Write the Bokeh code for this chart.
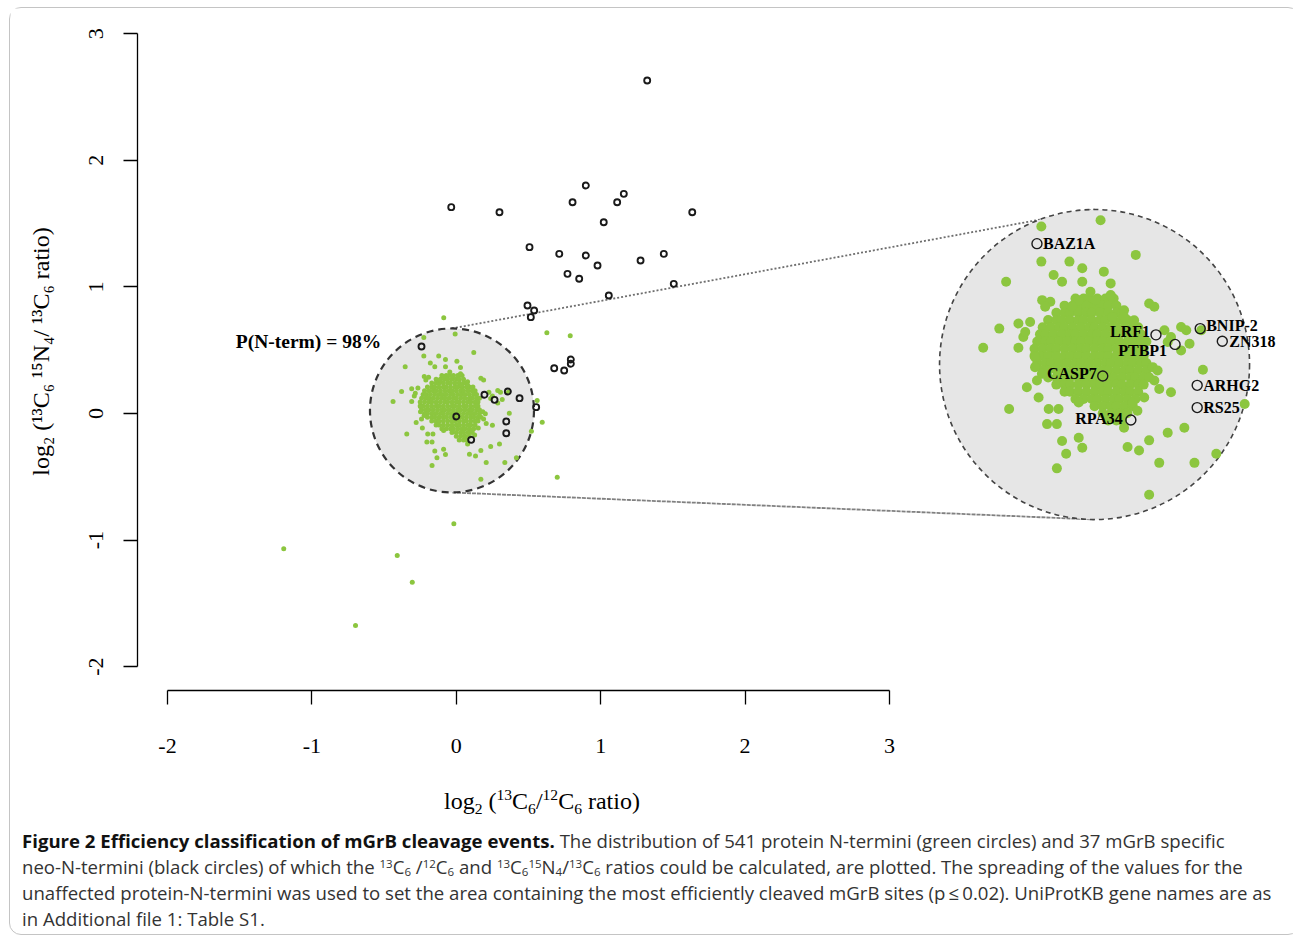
import numpy as np
from bokeh.plotting import figure
from bokeh.models import Range1d, FixedTicker, Div, Label
from bokeh.layouts import column
from bokeh.embed import file_html
from bokeh.resources import INLINE

# ---------------- data ----------------
x_ticks = [-2, -1, 0, 1, 2, 3]
y_ticks = [-2, -1, 0, 1, 2, 3]
y_title = "log₂ (¹³C₆ ¹⁵N₄/ ¹³C₆ ratio)"
p_text = "P(N-term) = 98%"

# dense core of unaffected N-termini, read row by row: (y, [x values])
core_rows = [
    (0.30, [-0.10, -0.07, -0.05, -0.02, 0.01, 0.04]),
    (0.27, [-0.14, -0.11, -0.08, -0.06, -0.03, 0.00, 0.02, 0.05]),
    (0.24, [-0.17, -0.14, -0.12, -0.09, -0.06, -0.04, -0.01, 0.02, 0.05, 0.07]),
    (0.21, [-0.20, -0.17, -0.15, -0.12, -0.09, -0.07, -0.04, -0.01, 0.01, 0.04, 0.07, 0.09]),
    (0.18, [-0.22, -0.19, -0.16, -0.14, -0.11, -0.08, -0.05, -0.03, 0.00, 0.03, 0.05, 0.08, 0.11, 0.13]),
    (0.15, [-0.23, -0.21, -0.18, -0.15, -0.12, -0.10, -0.07, -0.04, -0.02, 0.01, 0.04, 0.06, 0.09, 0.12, 0.14]),
    (0.12, [-0.24, -0.21, -0.19, -0.16, -0.13, -0.10, -0.08, -0.05, -0.02, 0.00, 0.03, 0.06, 0.09, 0.11, 0.14, 0.16]),
    (0.09, [-0.25, -0.22, -0.19, -0.17, -0.14, -0.11, -0.08, -0.06, -0.03, 0.00, 0.02, 0.05, 0.08, 0.10, 0.13, 0.15]),
    (0.06, [-0.25, -0.23, -0.20, -0.17, -0.14, -0.12, -0.09, -0.06, -0.03, -0.01, 0.02, 0.05, 0.07, 0.10, 0.13, 0.15]),
    (0.03, [-0.24, -0.21, -0.19, -0.16, -0.13, -0.10, -0.08, -0.05, -0.02, 0.01, 0.03, 0.06, 0.09, 0.11, 0.14, 0.16]),
    (0.00, [-0.22, -0.20, -0.17, -0.14, -0.11, -0.09, -0.06, -0.03, 0.00, 0.02, 0.05, 0.08, 0.10, 0.13, 0.16]),
    (-0.03, [-0.20, -0.17, -0.15, -0.12, -0.09, -0.07, -0.04, -0.01, 0.02, 0.04, 0.07, 0.10, 0.12, 0.15]),
    (-0.06, [-0.17, -0.14, -0.12, -0.09, -0.06, -0.03, -0.01, 0.02, 0.05, 0.07, 0.10, 0.13, 0.15]),
    (-0.09, [-0.14, -0.12, -0.09, -0.06, -0.03, 0.00, 0.02, 0.05, 0.08, 0.10, 0.13]),
    (-0.12, [-0.10, -0.07, -0.04, -0.02, 0.01, 0.04, 0.06, 0.09, 0.12]),
    (-0.15, [-0.03, 0.00, 0.03, 0.05, 0.08, 0.11]),
    (-0.18, [0.00, 0.03, 0.06, 0.09]),
    (-0.21, [0.02, 0.05, 0.07]),
]

# scattered unaffected N-termini around the core
fringe_x = [-0.225, -0.008, -0.225, -0.122, -0.075, -0.354, -0.180, -0.149, -0.075, -0.045,
            -0.222, -0.192, -0.211, -0.088, -0.112, -0.379, -0.309, -0.266, -0.291, -0.284,
            -0.438, -0.309, -0.248, 0.121, 0.004, 0.029, 0.029, -0.026, 0.170, 0.189,
            0.078, 0.035, 0.078, 0.115, 0.226, 0.287, 0.306, 0.250, 0.238, 0.318,
            0.287, 0.361, 0.367, 0.183, 0.201, 0.170, 0.189, 0.207, 0.250, 0.152,
            0.109, 0.127, 0.078, 0.299, 0.238, 0.170, 0.091, 0.133, 0.207, 0.336,
            0.416, 0.520, 0.170, -0.343, -0.278, -0.241, -0.223, -0.235, -0.198, -0.162,
            -0.204, -0.168, -0.149, -0.088, -0.075, -0.134, -0.168, -0.088, -0.248]
fringe_y = [0.601, 0.627, 0.454, 0.454, 0.426, 0.370, 0.398, 0.370, 0.370, 0.328,
            0.293, 0.286, 0.265, 0.293, 0.265, 0.174, 0.195, 0.202, 0.139, 0.160,
            0.094, 0.094, 0.055, 0.482, 0.412, 0.363, 0.314, 0.293, 0.279, 0.265,
            0.251, 0.223, 0.223, 0.209, 0.167, 0.181, 0.167, 0.139, 0.118, 0.111,
            0.083, 0.167, 0.002, 0.013, -0.001, -0.029, -0.043, -0.078, -0.092, -0.114,
            -0.135, -0.169, -0.240, -0.240, -0.261, -0.293, -0.321, -0.335, -0.387, -0.387,
            -0.349, -0.141, -0.520, -0.162, -0.071, -0.043, -0.015, -0.114, -0.162, -0.162,
            -0.225, -0.225, -0.296, -0.282, -0.324, -0.349, -0.410, -0.135, 0.013]

# outlying unaffected N-termini
outer_x = [-0.087, 0.627, 0.789, 0.595, 0.699, -0.017, -1.195, -0.409, -0.305, -0.698, 0.560]
outer_y = [0.756, 0.637, 0.614, -0.069, -0.503, -0.871, -1.069, -1.122, -1.333, -1.675, 0.103]

# mGrB neo-N-termini (black circles)
black_x = [1.322, -0.035, 0.299, 0.897, 0.805, 1.160, 1.114, 1.634, 1.021, 0.507,
           0.713, 0.897, 0.978, 1.276, 1.437, 0.770, 0.851, 1.056, 1.506, 0.493,
           0.539, 0.516, 0.678, 0.747, 0.793, 0.793,
           -0.241, 0.195, 0.265, 0.357, 0.438, 0.553, 0.000, 0.346, 0.346, 0.103]
black_y = [2.630, 1.630, 1.590, 1.801, 1.669, 1.735, 1.669, 1.590, 1.511, 1.314,
           1.261, 1.248, 1.169, 1.209, 1.261, 1.103, 1.064, 0.932, 1.024, 0.853,
           0.814, 0.761, 0.358, 0.340, 0.427, 0.393,
           0.529, 0.148, 0.108, 0.174, 0.121, 0.050, -0.024, -0.063, -0.156, -0.208]
black_names = [""] * 26 + ["BAZ1A", "LRF1", "PTBP1", "BNIP-2", "ZN318", "", "CASP7",
                           "ARHG2", "RS25", "RPA34"]

# ---------------- layout / style ----------------
FIG_W, FIG_H = 1279, 767
BL, BR, BT, BB = 127, 9, 4, 85
X0, X1 = -2.2078, 5.7077
Y0, Y1 = -2.188, 3.1675
kx = (FIG_W - BL - BR) / (X1 - X0)   # px per x unit
ky = (FIG_H - BT - BB) / (Y1 - Y0)   # px per y unit

GREEN = "#8cc63f"
CIRC_FILL = "#e6e6e6"
SERIF = "Liberation Serif"

# zoom geometry: small circle (data area) and its magnified copy
CS = (-0.030, 0.024)
RS = 82
CB = (4.420, 0.387)
RB = 155
M = RB / RS

# label placement for magnified view: name -> (side, dx, dy)
label_place = {
    "BAZ1A": ("right", 6, 0), "LRF1": ("left", -6, -3), "PTBP1": ("left", -8, 6),
    "BNIP-2": ("right", 6, -3), "ZN318": ("right", 7, 0), "CASP7": ("left", -6, -2),
    "ARHG2": ("right", 6, 0), "RS25": ("right", 6, 0), "RPA34": ("left", -8, -2),
}

green_x = [x for y, xs in core_rows for x in xs] + fringe_x + outer_x
green_y = [y for y, xs in core_rows for x in xs] + fringe_y + outer_y
gx, gy = np.array(green_x), np.array(green_y)
bx, by = np.array(black_x), np.array(black_y)


def inside(x, y):
    return np.hypot((x - CS[0]) * kx, (y - CS[1]) * ky) <= RS + 1.5


def magnify(x, y):
    return CB[0] + M * (x - CS[0]), CB[1] + M * (y - CS[1])


p = figure(width=FIG_W, height=FIG_H, x_range=Range1d(X0, X1), y_range=Range1d(Y0, Y1),
           output_backend="svg", toolbar_location=None,
           min_border_left=BL, min_border_right=BR, min_border_top=BT, min_border_bottom=BB,
           background_fill_color="white", border_fill_color="white", outline_line_color=None)
p.xgrid.visible = False
p.ygrid.visible = False

for ax, ticks in ((p.xaxis, x_ticks), (p.yaxis, y_ticks)):
    ax.ticker = FixedTicker(ticks=ticks)
    ax.bounds = (min(ticks), max(ticks))
    ax.major_label_overrides = {t: str(t) for t in ticks}
    ax.minor_tick_line_color = None
    ax.major_tick_in = 0
    ax.major_tick_out = 14
    ax.axis_line_width = 1.3
    ax.major_tick_line_width = 1.3
    ax.major_label_text_font = SERIF
    ax.major_label_text_font_size = "22px"
    ax.major_label_text_color = "black"
    ax.axis_label_text_font = SERIF
    ax.axis_label_text_font_size = "24px"
    ax.axis_label_text_font_style = "normal"
    ax.axis_label_text_color = "black"

p.yaxis.axis_label = y_title
p.xaxis.major_label_standoff = 34
p.yaxis.major_label_standoff = 20
p.yaxis.axis_label_standoff = 33
p.yaxis.major_label_orientation = "vertical"

# connector lines between the small circle and its magnified copy
p.line([CS[0], CB[0]], [CS[1] + RS / ky, CB[1] + RB / ky], line_color="#6e6e6e",
       line_width=1.8, line_dash="2 2")
p.line([CS[0], CB[0]], [CS[1] - RS / ky, CB[1] - RB / ky], line_color="#808080",
       line_width=1.8, line_dash="4 1")

# circles
p.scatter([CS[0]], [CS[1]], size=2 * RS, marker="circle", fill_color=CIRC_FILL,
          line_color="#333333", line_width=2.2, line_dash="7 5")
p.scatter([CB[0]], [CB[1]], size=2 * RB, marker="circle", fill_color=CIRC_FILL,
          line_color="#444444", line_width=1.6, line_dash="5 4")

# original scale points
p.scatter(gx, gy, size=5, marker="circle", fill_color=GREEN, line_color=None)
p.scatter(bx, by, size=6, marker="circle", fill_alpha=0, line_color="#1a1a1a", line_width=1.9)

# magnified points
gin = inside(gx, gy)
mgx, mgy = magnify(gx[gin], gy[gin])
p.scatter(mgx, mgy, size=10, marker="circle", fill_color=GREEN, line_color=None)

bin_ = inside(bx, by)
names = np.array(black_names)
mbx, mby = magnify(bx[bin_], by[bin_])
p.scatter(mbx, mby, size=10, marker="circle", fill_alpha=0, line_color="#1a1a1a", line_width=1.4)

for nm, x, y in zip(names[bin_], mbx, mby):
    if not nm:
        continue
    side, dx, dy = label_place[nm]
    p.add_layout(Label(x=x, y=y, text=nm, x_offset=dx, y_offset=-dy,
                       text_align="left" if side == "right" else "right",
                       text_baseline="middle", text_font=SERIF, text_font_style="bold",
                       text_font_size="16px", text_color="black"))

p.add_layout(Label(x=CS[0] - 0.49, y=CS[1] + 0.545, text=p_text, text_align="right",
                   text_baseline="middle", text_font=SERIF, text_font_style="bold",
                   text_font_size="19.5px", text_color="black"))

# x title (R style: centred under the bounded axis), as rich text below the figure
X_TITLE_LEFT = BL + (0.6 - X0) * kx - 98
xt_html = (
    '<div style="font-family:\'Liberation Serif\',serif;font-size:24px;line-height:30px;'
    'padding-top:5px;padding-left:%dpx;color:black;white-space:nowrap;">'
    'log<span style="font-size:65%%;vertical-align:-5px;">2</span> '
    '(<span style="font-size:65%%;vertical-align:9px;">13</span>C'
    '<span style="font-size:65%%;vertical-align:-5px;">6</span>/'
    '<span style="font-size:65%%;vertical-align:9px;">12</span>C'
    '<span style="font-size:65%%;vertical-align:-5px;">6</span> ratio)</div>'
) % int(round(X_TITLE_LEFT))
xtitle = Div(text=xt_html, width=FIG_W, height=51, margin=(0, 0, 0, 0))

SUP = '<span style="font-size:62%;vertical-align:6px;line-height:1;">'
SUB = '<span style="font-size:62%;vertical-align:-2px;line-height:1;">'
caption_html = (
    '<div style="font-family:\'Open Sans\',sans-serif;font-size:18.6px;line-height:26px;'
    'color:#333;white-space:nowrap;padding-left:7px;">'
    '<b style="color:#111;">Figure 2 Efficiency classification of mGrB cleavage events.</b> '
    'The distribution of 541 protein N-termini (green circles) and 37 mGrB specific<br>'
    'neo-N-termini (black circles) of which the {P}13{E}C{B}6{E} /{P}12{E}C{B}6{E} '
    'and {P}13{E}C{B}6{E}{P}15{E}N{B}4{E}/{P}13{E}C{B}6{E} ratios could '
    'be calculated, are plotted. The spreading of the values for the<br>'
    'unaffected protein-N-termini was used to set the area containing the most efficiently '
    'cleaved mGrB sites (p&thinsp;&le;&thinsp;0.02). UniProtKB gene names are as<br>'
    'in Additional file 1: Table S1.'
    '</div>'
).replace("{P}", SUP).replace("{B}", SUB).replace("{E}", "</span>")
cap = Div(text=caption_html, width=FIG_W, height=104, margin=(2, 5, 2, 5))

layout = column(p, xtitle, cap, margin=(7, 0, 0, 9),
                styles={"border": "1px solid #c4c4c4", "border-radius": "12px",
                        "background": "white"})

open("out.html", "w").write(file_html(layout, INLINE))
